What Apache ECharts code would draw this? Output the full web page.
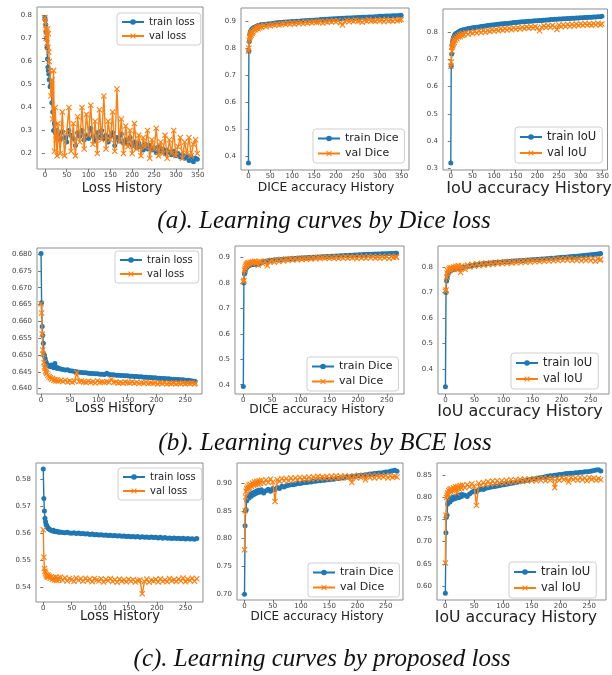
<!DOCTYPE html>
<html>
<head>
<meta charset="utf-8">
<script src="https://cdn.jsdelivr.net/npm/echarts@6/dist/echarts.min.js"></script>
<style>html,body{margin:0;padding:0;background:#fff}#c{width:612px;height:675px}</style>
</head>
<body>
<div id="c"></div>
<script>
// ---------- epochs ----------
const epA = [0,1,2,3,4,5,6,7,8,9,10, 12,14,16,18,20,22,24,26,28,30,
 35,40,45,50,55,60,65,70,75,80, 85,90,95,100,105,110,115,120,125,130,
 135,140,145,150,155,160,165,170,175,180, 185,190,195,200,205,210,215,220,225,230,
 235,240,245,250,255,260,265,270,275,280, 285,290,295,300,305,310,315,320,325,330,
 335,340,345,349];
const epB = [0,1,2,3,4,5,6,7,8,9,10, 12,14,16,18,20,22,24,26,28,30,
 34,38,42,46,50,54,58,62,66,70, 74,78,82,86,90,94,98,102,106,110,
 114,118,122,126,130,134,138,142,146,150, 154,158,162,166,170,174,178,182,186,190,
 194,198,202,206,210,214,218,222,226,230, 234,238,242,246,250,254,258,262,266,267];
const epC = [0,1,2,3,4,5,6,7,8,9,10, 12,14,16,18,20,22,24,26,28,30,
 34,38,42,46,50,54,58,62,66,70, 74,78,82,86,90,94,98,102,106,110,
 114,118,122,126,130,134,138,142,146,150, 154,158,162,166,170,174,178,182,186,190,
 194,198,202,206,210,214,218,222,226,230, 234,238,242,246,250,254,258,262,266,270];

// ---------- (a) Dice loss ----------
const lossTrainA = [0.790,0.780,0.760,0.725,0.700,0.660,0.610,0.575,0.560,0.545,0.520,
 0.490,0.500,0.420,0.380,0.300,0.330,0.290,0.270,0.300,0.285,
 0.260,0.295,0.270,0.250,0.300,0.280,0.265,0.235,0.290,0.275,
 0.300,0.260,0.280,0.265,0.310,0.275,0.255,0.290,0.270,0.300,
 0.265,0.280,0.250,0.275,0.290,0.235,0.270,0.255,0.285,0.245,
 0.260,0.240,0.270,0.235,0.250,0.225,0.245,0.230,0.215,0.240,
 0.220,0.235,0.215,0.225,0.205,0.230,0.210,0.220,0.200,0.215,
 0.205,0.195,0.210,0.190,0.200,0.185,0.195,0.180,0.190,0.170,
 0.185,0.165,0.180,0.175];
const lossValA = [0.790,0.770,0.740,0.700,0.730,0.680,0.740,0.660,0.720,0.640,0.600,
 0.560,0.450,0.520,0.350,0.560,0.210,0.400,0.260,0.190,0.330,
 0.200,0.380,0.190,0.290,0.400,0.210,0.330,0.190,0.360,0.250,
 0.400,0.220,0.370,0.280,0.410,0.240,0.340,0.200,0.390,0.260,
 0.450,0.220,0.340,0.260,0.380,0.210,0.480,0.250,0.350,0.200,
 0.320,0.230,0.300,0.200,0.330,0.220,0.280,0.190,0.270,0.230,
 0.300,0.180,0.260,0.220,0.310,0.190,0.250,0.200,0.280,0.180,
 0.260,0.200,0.300,0.190,0.230,0.270,0.180,0.250,0.200,0.270,
 0.190,0.240,0.260,0.200];
const diceTrainA = [0.375,0.790,0.825,0.850,0.858,0.862,0.866,0.868,0.870,0.872,0.874,
 0.876,0.878,0.879,0.880,0.882,0.883,0.884,0.885,0.886,0.887,
 0.888,0.889,0.890,0.891,0.892,0.893,0.894,0.895,0.895,0.896,
 0.897,0.897,0.898,0.899,0.899,0.900,0.900,0.901,0.902,0.902,
 0.903,0.903,0.904,0.904,0.905,0.905,0.906,0.906,0.907,0.907,
 0.908,0.908,0.909,0.909,0.910,0.910,0.911,0.911,0.912,0.912,
 0.912,0.913,0.913,0.914,0.914,0.915,0.915,0.915,0.916,0.916,
 0.916,0.917,0.917,0.918,0.918,0.918,0.919,0.919,0.919,0.920,
 0.920,0.920,0.921,0.922];
const diceValA = [0.790,0.800,0.830,0.840,0.845,0.852,0.848,0.858,0.855,0.862,0.860,
 0.866,0.870,0.868,0.874,0.878,0.872,0.880,0.876,0.882,0.879,
 0.884,0.880,0.886,0.883,0.888,0.885,0.890,0.886,0.889,0.892,
 0.888,0.893,0.890,0.894,0.889,0.895,0.892,0.896,0.891,0.897,
 0.893,0.898,0.894,0.899,0.895,0.897,0.900,0.893,0.899,0.896,
 0.901,0.897,0.902,0.898,0.903,0.894,0.886,0.899,0.904,0.898,
 0.903,0.899,0.905,0.900,0.902,0.896,0.904,0.900,0.906,0.901,
 0.903,0.899,0.906,0.902,0.905,0.898,0.907,0.901,0.904,0.900,
 0.907,0.902,0.905,0.906];
const iouTrainA = [0.320,0.675,0.720,0.750,0.765,0.772,0.778,0.782,0.786,0.789,0.792,
 0.795,0.797,0.799,0.801,0.803,0.804,0.806,0.807,0.808,0.809,
 0.811,0.813,0.814,0.816,0.817,0.818,0.819,0.821,0.822,0.823,
 0.824,0.825,0.826,0.827,0.828,0.829,0.830,0.831,0.832,0.832,
 0.833,0.834,0.835,0.835,0.836,0.837,0.838,0.838,0.839,0.840,
 0.840,0.841,0.842,0.842,0.843,0.843,0.844,0.845,0.845,0.846,
 0.846,0.847,0.847,0.848,0.848,0.849,0.849,0.850,0.850,0.851,
 0.851,0.852,0.852,0.853,0.853,0.854,0.854,0.855,0.855,0.856,
 0.856,0.857,0.857,0.858];
const iouValA = [0.675,0.690,0.745,0.730,0.750,0.760,0.755,0.768,0.762,0.775,0.770,
 0.780,0.776,0.785,0.782,0.790,0.784,0.792,0.788,0.795,0.790,
 0.798,0.792,0.800,0.795,0.802,0.797,0.804,0.799,0.806,0.800,
 0.807,0.802,0.809,0.804,0.810,0.805,0.812,0.807,0.813,0.808,
 0.814,0.809,0.816,0.811,0.817,0.812,0.818,0.813,0.819,0.814,
 0.820,0.815,0.821,0.816,0.805,0.818,0.823,0.817,0.824,0.818,
 0.825,0.819,0.810,0.826,0.820,0.827,0.821,0.828,0.822,0.829,
 0.823,0.830,0.824,0.831,0.825,0.832,0.826,0.831,0.825,0.832,
 0.826,0.833,0.827,0.830];

// ---------- (b) BCE loss ----------
const lossTrainB = [0.6802,0.6655,0.6585,0.6558,0.6535,0.6502,0.6498,0.6490,0.6482,0.6478,0.6472,
 0.6470,0.6468,0.6465,0.6470,0.6466,0.6462,0.6475,0.6464,0.6460,0.6461,
 0.6458,0.6457,0.6455,0.6456,0.6453,0.6452,0.6451,0.6450,0.6449,0.6448,
 0.6447,0.6447,0.6446,0.6445,0.6445,0.6444,0.6444,0.6443,0.6443,0.6442,
 0.6446,0.6442,0.6441,0.6441,0.6440,0.6440,0.6439,0.6439,0.6438,0.6438,
 0.6437,0.6437,0.6436,0.6436,0.6435,0.6435,0.6434,0.6434,0.6433,0.6433,
 0.6432,0.6432,0.6431,0.6431,0.6430,0.6430,0.6429,0.6429,0.6428,0.6428,
 0.6427,0.6427,0.6426,0.6426,0.6425,0.6425,0.6424,0.6423,0.6422,0.6421];
const lossValB = [0.6652,0.6625,0.6562,0.6515,0.6502,0.6478,0.6465,0.6460,0.6452,0.6448,0.6445,
 0.6440,0.6435,0.6432,0.6428,0.6430,0.6425,0.6427,0.6423,0.6426,0.6422,
 0.6424,0.6421,0.6425,0.6420,0.6423,0.6419,0.6422,0.6448,0.6421,0.6423,
 0.6420,0.6418,0.6422,0.6419,0.6421,0.6417,0.6423,0.6419,0.6420,0.6418,
 0.6421,0.6419,0.6428,0.6418,0.6420,0.6417,0.6419,0.6416,0.6420,0.6418,
 0.6417,0.6420,0.6416,0.6419,0.6415,0.6418,0.6416,0.6419,0.6415,0.6417,
 0.6416,0.6418,0.6414,0.6417,0.6415,0.6418,0.6414,0.6416,0.6415,0.6417,
 0.6414,0.6416,0.6415,0.6417,0.6414,0.6416,0.6415,0.6417,0.6414,0.6416];
const diceTrainB = [0.393,0.800,0.835,0.840,0.852,0.858,0.862,0.865,0.866,0.868,0.870,
 0.871,0.872,0.873,0.874,0.875,0.876,0.873,0.877,0.878,0.880,
 0.884,0.886,0.887,0.888,0.889,0.890,0.891,0.891,0.892,0.893,
 0.894,0.894,0.895,0.896,0.896,0.897,0.898,0.898,0.899,0.899,
 0.900,0.900,0.901,0.901,0.902,0.902,0.903,0.903,0.904,0.904,
 0.905,0.905,0.906,0.906,0.907,0.907,0.908,0.908,0.909,0.909,
 0.910,0.910,0.911,0.911,0.912,0.912,0.913,0.913,0.913,0.914,
 0.914,0.914,0.915,0.915,0.915,0.916,0.916,0.916,0.917,0.917];
const diceValB = [0.805,0.810,0.850,0.858,0.865,0.870,0.875,0.872,0.878,0.880,0.876,
 0.882,0.879,0.884,0.880,0.886,0.878,0.883,0.870,0.885,0.881,
 0.876,0.887,0.868,0.884,0.889,0.882,0.891,0.885,0.893,0.887,
 0.894,0.889,0.895,0.890,0.896,0.891,0.897,0.892,0.898,0.893,
 0.899,0.894,0.900,0.895,0.901,0.896,0.900,0.897,0.902,0.896,
 0.901,0.897,0.903,0.896,0.902,0.898,0.904,0.897,0.903,0.899,
 0.902,0.896,0.904,0.898,0.903,0.897,0.905,0.899,0.904,0.898,
 0.903,0.897,0.905,0.899,0.904,0.896,0.905,0.900,0.903,0.901];
const iouTrainB = [0.330,0.700,0.745,0.755,0.768,0.775,0.780,0.782,0.784,0.786,0.788,
 0.789,0.790,0.791,0.792,0.793,0.794,0.795,0.796,0.797,0.798,
 0.800,0.802,0.804,0.806,0.808,0.809,0.810,0.811,0.812,0.813,
 0.814,0.815,0.816,0.817,0.818,0.818,0.819,0.820,0.821,0.821,
 0.822,0.823,0.823,0.824,0.825,0.825,0.826,0.827,0.827,0.828,
 0.829,0.829,0.830,0.831,0.831,0.832,0.833,0.834,0.834,0.835,
 0.836,0.837,0.838,0.838,0.839,0.840,0.841,0.842,0.842,0.843,
 0.844,0.845,0.846,0.847,0.848,0.849,0.850,0.851,0.852,0.853];
const iouValB = [0.705,0.710,0.760,0.775,0.785,0.780,0.792,0.788,0.796,0.790,0.798,
 0.793,0.800,0.795,0.803,0.790,0.806,0.798,0.778,0.804,0.797,
 0.790,0.808,0.800,0.810,0.803,0.812,0.805,0.814,0.807,0.815,
 0.809,0.816,0.810,0.818,0.812,0.819,0.813,0.820,0.814,0.821,
 0.815,0.822,0.816,0.823,0.817,0.824,0.818,0.825,0.819,0.826,
 0.820,0.827,0.821,0.828,0.822,0.829,0.823,0.830,0.824,0.831,
 0.825,0.832,0.826,0.833,0.827,0.834,0.825,0.832,0.826,0.833,
 0.824,0.832,0.826,0.834,0.825,0.833,0.822,0.832,0.826,0.830];

// ---------- (c) proposed loss ----------
const lossTrainC = [0.5838,0.5728,0.5682,0.5655,0.5642,0.5632,0.5628,0.5622,0.5620,0.5617,0.5615,
 0.5612,0.5610,0.5608,0.5610,0.5606,0.5605,0.5607,0.5604,0.5603,0.5604,
 0.5602,0.5601,0.5603,0.5600,0.5599,0.5601,0.5598,0.5600,0.5597,0.5598,
 0.5596,0.5597,0.5595,0.5596,0.5594,0.5595,0.5593,0.5594,0.5592,0.5593,
 0.5591,0.5592,0.5590,0.5591,0.5589,0.5590,0.5588,0.5589,0.5587,0.5588,
 0.5586,0.5587,0.5585,0.5587,0.5584,0.5586,0.5584,0.5585,0.5583,0.5585,
 0.5583,0.5584,0.5582,0.5584,0.5581,0.5583,0.5581,0.5582,0.5580,0.5582,
 0.5580,0.5581,0.5579,0.5581,0.5578,0.5580,0.5578,0.5579,0.5577,0.5580];
const lossValC = [0.5612,0.5510,0.5468,0.5458,0.5452,0.5446,0.5441,0.5438,0.5444,0.5436,0.5440,
 0.5432,0.5438,0.5428,0.5435,0.5426,0.5437,0.5424,0.5433,0.5427,0.5436,
 0.5425,0.5434,0.5422,0.5431,0.5427,0.5420,0.5433,0.5425,0.5430,0.5421,
 0.5432,0.5424,0.5429,0.5419,0.5431,0.5426,0.5422,0.5430,0.5418,0.5428,
 0.5423,0.5431,0.5420,0.5427,0.5417,0.5429,0.5422,0.5426,0.5419,0.5428,
 0.5421,0.5427,0.5418,0.5424,0.5426,0.5375,0.5420,0.5429,0.5417,0.5425,
 0.5422,0.5428,0.5418,0.5430,0.5421,0.5426,0.5419,0.5431,0.5423,0.5427,
 0.5420,0.5429,0.5422,0.5433,0.5419,0.5428,0.5424,0.5432,0.5421,0.5430];
const diceTrainC = [0.700,0.823,0.850,0.852,0.868,0.872,0.874,0.876,0.873,0.878,0.880,
 0.876,0.882,0.879,0.884,0.881,0.886,0.883,0.887,0.884,0.888,
 0.882,0.886,0.889,0.885,0.890,0.888,0.892,0.890,0.894,0.893,
 0.895,0.896,0.897,0.897,0.898,0.899,0.899,0.900,0.901,0.901,
 0.902,0.902,0.903,0.903,0.904,0.904,0.905,0.905,0.906,0.906,
 0.907,0.907,0.908,0.908,0.909,0.909,0.910,0.911,0.911,0.912,
 0.912,0.913,0.913,0.914,0.914,0.915,0.915,0.916,0.916,0.917,
 0.917,0.918,0.918,0.919,0.920,0.920,0.921,0.922,0.923,0.921];
const diceValC = [0.780,0.850,0.875,0.885,0.890,0.888,0.893,0.890,0.896,0.892,0.898,
 0.894,0.900,0.896,0.902,0.897,0.903,0.898,0.904,0.899,0.905,
 0.900,0.906,0.901,0.907,0.902,0.867,0.906,0.903,0.908,0.904,
 0.908,0.904,0.909,0.905,0.909,0.906,0.910,0.906,0.910,0.907,
 0.911,0.907,0.911,0.908,0.912,0.908,0.911,0.909,0.912,0.908,
 0.912,0.909,0.913,0.908,0.912,0.910,0.913,0.909,0.912,0.901,
 0.913,0.909,0.914,0.910,0.913,0.906,0.914,0.910,0.913,0.909,
 0.914,0.910,0.913,0.911,0.914,0.909,0.913,0.910,0.912,0.911];
const iouTrainC = [0.583,0.720,0.755,0.760,0.785,0.790,0.792,0.795,0.790,0.797,0.799,
 0.795,0.801,0.797,0.803,0.799,0.805,0.800,0.806,0.802,0.807,
 0.805,0.802,0.808,0.812,0.815,0.813,0.817,0.819,0.818,0.821,
 0.822,0.823,0.824,0.825,0.826,0.827,0.828,0.829,0.830,0.831,
 0.832,0.833,0.834,0.835,0.836,0.837,0.838,0.839,0.840,0.841,
 0.842,0.843,0.844,0.845,0.846,0.847,0.848,0.849,0.849,0.850,
 0.851,0.852,0.852,0.853,0.854,0.854,0.855,0.855,0.856,0.856,
 0.857,0.857,0.858,0.858,0.859,0.860,0.861,0.862,0.863,0.860];
const iouValC = [0.652,0.760,0.800,0.805,0.810,0.808,0.815,0.812,0.818,0.814,0.820,
 0.816,0.822,0.817,0.824,0.810,0.825,0.819,0.827,0.821,0.828,
 0.822,0.829,0.824,0.831,0.826,0.782,0.832,0.828,0.834,0.829,
 0.836,0.830,0.837,0.831,0.838,0.832,0.838,0.833,0.839,0.834,
 0.840,0.835,0.840,0.836,0.841,0.836,0.842,0.837,0.842,0.838,
 0.843,0.838,0.843,0.839,0.844,0.838,0.843,0.839,0.844,0.822,
 0.843,0.839,0.845,0.840,0.844,0.835,0.845,0.840,0.844,0.839,
 0.845,0.840,0.844,0.838,0.845,0.841,0.844,0.839,0.843,0.840];

// ---------- tick labels ----------
const xTicksA = [0,50,100,150,200,250,300,350];
const xTicksBC = [0,50,100,150,200,250];
const yTicksLossA = [0.2,0.3,0.4,0.5,0.6,0.7,0.8];
const yTicksDiceA = [0.4,0.5,0.6,0.7,0.8,0.9];
const yTicksIouA = [0.3,0.4,0.5,0.6,0.7,0.8];
const yTicksLossB = [0.640,0.645,0.650,0.655,0.660,0.665,0.670,0.675,0.680];
const yTicksDiceB = [0.4,0.5,0.6,0.7,0.8,0.9];
const yTicksIouB = [0.4,0.5,0.6,0.7,0.8];
const yTicksLossC = [0.54,0.55,0.56,0.57,0.58];
const yTicksDiceC = [0.70,0.75,0.80,0.85,0.90];
const yTicksIouC = [0.60,0.65,0.70,0.75,0.80,0.85];

const panelTitles = ['Loss History','DICE accuracy History','IoU accuracy History'];
const captions = ['(a). Learning curves by Dice loss','(b). Learning curves by BCE loss','(c). Learning curves by proposed loss'];

// ---------- layout ----------
const BLUE = '#1f77b4', ORANGE = '#ff7f0e';
const XSYM = 'path://M0,1.3 L1.3,0 L5,3.7 L8.7,0 L10,1.3 L6.3,5 L10,8.7 L8.7,10 L5,6.3 L1.3,10 L0,8.7 L3.7,5 Z';

const panels = [
 {ep:epA, tr:lossTrainA, va:lossValA, names:['train loss','val loss'], box:[37,7,203,169], xr:[-18,362], yr:[0.133,0.836], xt:xTicksA, yt:yTicksLossA, yd:1,
  lg:{left:117,top:13,fs:10}, tt:{t:0,x:122,y:189,fs:13.3}},
 {ep:epA, tr:diceTrainA, va:diceValA, names:['train Dice','val Dice'], box:[241,8,409,170], xr:[-17,367], yr:[0.349,0.949], xt:xTicksA, yt:yTicksDiceA, yd:1,
  lg:{left:313,top:129,fs:11}, tt:{t:1,x:326,y:188,fs:12.3}},
 {ep:epA, tr:iouTrainA, va:iouValA, names:['train IoU','val IoU'], box:[443,9,610,170], xr:[-18,362], yr:[0.294,0.885], xt:xTicksA, yt:yTicksIouA, yd:1,
  lg:{left:515,top:127,fs:11.5}, tt:{t:2,x:529,y:189,fs:16}},
 {ep:epB, tr:lossTrainB, va:lossValB, names:['train loss','val loss'], box:[37,248,202,394], xr:[-7,279], yr:[0.6384,0.6818], xt:xTicksBC, yt:yTicksLossB, yd:3,
  lg:{left:115,top:251,fs:10}, tt:{t:0,x:115,y:409,fs:13.3}},
 {ep:epB, tr:diceTrainB, va:diceValB, names:['train Dice','val Dice'], box:[235,246,404,394], xr:[-14.5,280], yr:[0.3635,0.9455], xt:xTicksBC, yt:yTicksDiceB, yd:1,
  lg:{left:307,top:357,fs:11}, tt:{t:1,x:317,y:410,fs:12.2}},
 {ep:epB, tr:iouTrainB, va:iouValB, names:['train IoU','val IoU'], box:[438,246,609,394], xr:[-12.8,281.5], yr:[0.302,0.882], xt:xTicksBC, yt:yTicksIouB, yd:1,
  lg:{left:511,top:353,fs:11.5}, tt:{t:2,x:520,y:412,fs:16}},
 {ep:epC, tr:lossTrainC, va:lossValC, names:['train loss','val loss'], box:[36,463,203,602], xr:[-12.8,280.9], yr:[0.5344,0.5860], xt:xTicksBC, yt:yTicksLossC, yd:2,
  lg:{left:118,top:468,fs:10}, tt:{t:0,x:120,y:617,fs:13.2}},
 {ep:epC, tr:diceTrainC, va:diceValC, names:['train Dice','val Dice'], box:[237,463,403,600], xr:[-13.3,280.6], yr:[0.6897,0.936], xt:xTicksBC, yt:yTicksDiceC, yd:2,
  lg:{left:308,top:563,fs:11}, tt:{t:1,x:317,y:617,fs:12}},
 {ep:epC, tr:iouTrainC, va:iouValC, names:['train IoU','val IoU'], box:[437,463,606,600], xr:[-14.5,279], yr:[0.568,0.878], xt:xTicksBC, yt:yTicksIouC, yd:2,
  lg:{left:509,top:562,fs:11.5}, tt:{t:2,x:516,y:618,fs:15.7}}
];

const grid=[], xAxis=[], yAxis=[], series=[], legend=[], graphic=[];
panels.forEach((p,i)=>{
  const [l,t,r,b] = p.box;
  grid.push({left:l, top:t, width:r-l, height:b-t, show:true, borderColor:'#8d8d8d', borderWidth:1, backgroundColor:'#fff'});
  xAxis.push({type:'value', gridIndex:i, min:p.xr[0], max:p.xr[1],
    axisLine:{show:false}, splitLine:{show:false},
    axisTick:{show:true, length:3, inside:false, lineStyle:{color:'#555', width:0.8}, customValues:p.xt},
    axisLabel:{show:true, customValues:p.xt, margin:3, fontSize:7, color:'#444', fontFamily:'DejaVu Sans', formatter:v=>String(v)}});
  yAxis.push({type:'value', gridIndex:i, min:p.yr[0], max:p.yr[1],
    axisLine:{show:false}, splitLine:{show:false},
    axisTick:{show:true, length:3, inside:false, lineStyle:{color:'#555', width:0.8}, customValues:p.yt},
    axisLabel:{show:true, customValues:p.yt, margin:5, fontSize:7, color:'#444', fontFamily:'DejaVu Sans', formatter:(d=>v=>v.toFixed(d))(p.yd)}});
  series.push({type:'line', name:p.names[0], xAxisIndex:i, yAxisIndex:i, data:p.ep.map((e,k)=>[e,p.tr[k]]),
    symbol:'circle', symbolSize:5, showSymbol:true, lineStyle:{color:BLUE, width:1.4}, itemStyle:{color:BLUE}, z:2, animation:false, silent:true});
  series.push({type:'line', name:p.names[1], xAxisIndex:i, yAxisIndex:i, data:p.ep.map((e,k)=>[e,p.va[k]]),
    symbol:XSYM, symbolSize:6, showSymbol:true, lineStyle:{color:ORANGE, width:1.4}, itemStyle:{color:ORANGE}, z:3, animation:false, silent:true});
  legend.push({data:p.names, left:p.lg.left, top:p.lg.top, orient:'vertical', itemWidth:22, itemHeight:7, itemGap:4,
    padding:[4,6,4,4], backgroundColor:'rgba(255,255,255,0.85)', borderColor:'#cfcfcf', borderWidth:1, borderRadius:3,
    textStyle:{fontSize:p.lg.fs, color:'#222', fontFamily:'DejaVu Sans'}, selectedMode:false});
  graphic.push({type:'text', x:p.tt.x, y:p.tt.y, style:{text:panelTitles[p.tt.t], font:p.tt.fs+'px "DejaVu Sans"', fill:'#222', align:'center', verticalAlign:'middle'}});
});
const capY = [221, 443, 659], capX = [324, 325, 322];
captions.forEach((c,i)=>{
  graphic.push({type:'text', x:capX[i], y:capY[i], style:{text:c, font:'italic 25px "Liberation Serif"', fill:'#111', align:'center', verticalAlign:'middle'}});
});

const chart = echarts.init(document.getElementById('c'), null, {renderer:'canvas'});
chart.setOption({animation:false, backgroundColor:'#fff', textStyle:{fontFamily:'DejaVu Sans'}, grid, xAxis, yAxis, series, legend, graphic});
</script>
</body>
</html>
